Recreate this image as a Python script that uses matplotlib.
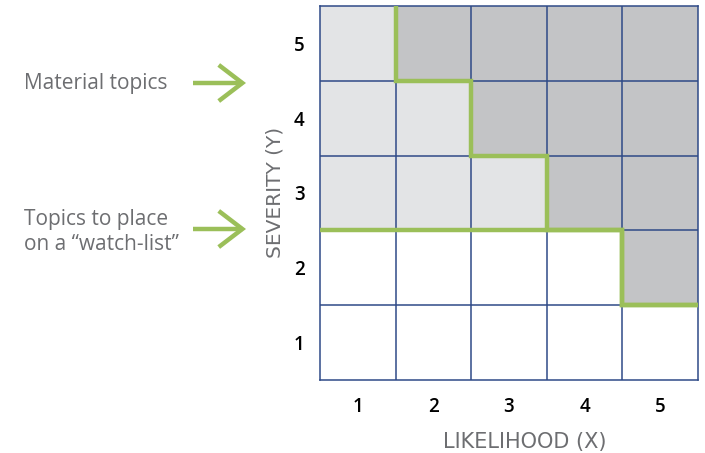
import matplotlib
matplotlib.use("Agg")
import matplotlib.pyplot as plt
from matplotlib.colors import ListedColormap
from matplotlib.patches import FancyArrowPatch
import numpy as np

plt.rcParams['font.family'] = ['Open Sans', 'DejaVu Sans']

likelihood = [1, 2, 3, 4, 5]
severity = [1, 2, 3, 4, 5]
# zone per cell: rows = severity 1..5, cols = likelihood 1..5
# 0 = below threshold, 1 = watch-list, 2 = material
zones = [
    [0, 0, 0, 0, 0],
    [0, 0, 0, 0, 2],
    [1, 1, 1, 2, 2],
    [1, 1, 2, 2, 2],
    [1, 2, 2, 2, 2],
]
x_label = "LIKELIHOOD (X)"
y_label = "SEVERITY (Y)"
note_material = "Material topics"
note_watch = "Topics to place\non a \u201cwatch-list\u201d"

WHITE = "#ffffff"
LIGHT = "#e3e4e6"
DARK = "#c3c4c6"
NAVY = "#2f4a87"
GREEN = "#9bbf59"
GREY_TXT = "#6d6e71"

W, H = 705, 453
fig = plt.figure(figsize=(W/100, H/100), dpi=100)
ax = fig.add_axes([320/W, 1-380/H, 378/W, 374/H])

z = np.array(zones)
ax.imshow(z, cmap=ListedColormap([WHITE, LIGHT, DARK]), vmin=0, vmax=2,
          origin='lower', extent=(0.5, 5.5, 0.5, 5.5), aspect='auto',
          interpolation='nearest')

for v in np.arange(1.5, 5.5, 1):
    ax.axvline(v, color=NAVY, lw=1.1, zorder=2)
    ax.axhline(v, color=NAVY, lw=1.1, zorder=2)
for s in ax.spines.values():
    s.set_color(NAVY)
    s.set_linewidth(1.1)

# threshold staircases derived from zones
def lower_edge(mask_fn):
    edges = []
    for j in range(len(likelihood)):
        rows = [i for i in range(len(severity)) if mask_fn(z[i, j])]
        edges.append(severity[min(rows)] - 0.5 if rows else severity[-1] + 0.5)
    return edges

mat_edges = lower_edge(lambda v: v == 2)
any_edges = lower_edge(lambda v: v >= 1)

def stair(edges, start_col):
    xs, ys = [], []
    xs.append(likelihood[start_col] - 0.5); ys.append(severity[-1] + 0.5)
    for j in range(start_col, len(edges)):
        xs.append(likelihood[j] - 0.5); ys.append(edges[j])
        xs.append(likelihood[j] + 0.5); ys.append(edges[j])
    return xs, ys

first_mat = next(j for j, e in enumerate(mat_edges) if e < severity[-1] + 0.5)
mx, my = stair(mat_edges, first_mat)
ax.plot(mx, my, color=GREEN, lw=3.2, zorder=3, solid_joinstyle='miter',
        solid_capstyle='butt', clip_on=False)
wx, wy = stair(any_edges, 0)
ax.plot(wx[1:], wy[1:], color=GREEN, lw=3.2, zorder=3, solid_joinstyle='miter',
        solid_capstyle='butt', clip_on=False)

ax.set_xlim(0.5, 5.5)
ax.set_ylim(0.5, 5.5)
ax.set_xticks(likelihood)
ax.set_yticks(severity)
ax.set_xticklabels([str(v) for v in likelihood], fontweight='semibold')
ax.set_yticklabels([str(v) for v in severity], fontweight='semibold')
ax.tick_params(length=0, labelsize=13.5, colors='black')
ax.tick_params(axis='x', pad=12)
ax.tick_params(axis='y', pad=11)

fig.text(525/W, 1-442/H, x_label, fontsize=15, color=GREY_TXT,
         family=['DejaVu Sans'], ha='center', va='center')
fig.text(275/W, 1-192/H, y_label, fontsize=14.5, color=GREY_TXT,
         family=['DejaVu Sans'], ha='center', va='center', rotation=90)

fig.text(24/W, 1-83/H, note_material, fontsize=15, color=GREY_TXT,
         ha='left', va='center')
fig.text(24/W, 1-232/H, note_watch, fontsize=15, color=GREY_TXT,
         ha='left', va='center', linespacing=1.25)
for yy in (83, 229):
    fig.add_artist(FancyArrowPatch(
        (193/W, 1-yy/H), (246/W, 1-yy/H), transform=fig.transFigure,
        arrowstyle='->,head_length=0.85,head_width=0.65', mutation_scale=20,
        shrinkA=0, shrinkB=0,
        color=GREEN, lw=3.2, joinstyle='miter', capstyle='butt'))

fig.savefig("out.png", dpi=100)
